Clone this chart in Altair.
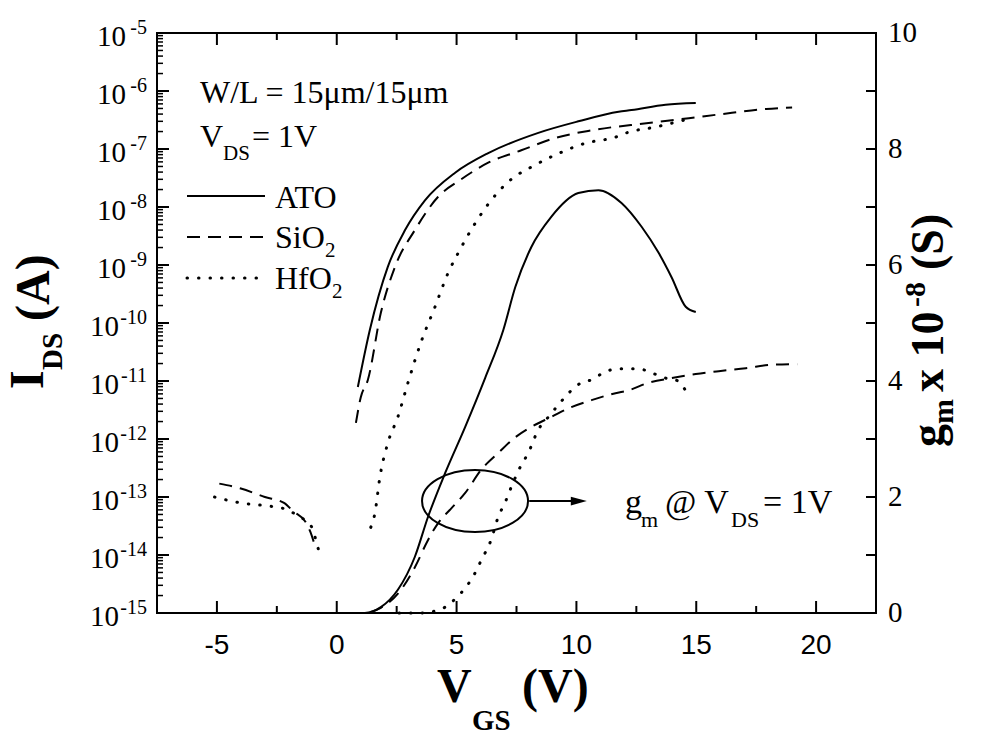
import math
import altair as alt
import pandas as pd

# ---------------- data ----------------
# I_DS (A) versus V_GS (V)
ato_v = [0.88, 1.38, 2.13, 2.85, 3.68, 4.94, 6.32, 8.41, 10.08, 11.76, 12.30, 13.72, 14.98]
ato_ids = [7.9e-12, 7.6e-11, 9.3e-10, 4.0e-9, 1.3e-8, 3.9e-8, 8.5e-8, 1.9e-7, 3.0e-7,
           4.4e-7, 4.7e-7, 5.8e-7, 6.2e-7]

sio2_v = [0.80, 1.00, 1.30, 1.84, 2.43, 3.26, 4.23, 5.19, 6.32, 7.70, 9.12, 10.63, 13.01,
          14.69, 16.49, 17.91, 19.00]
sio2_ids = [1.9e-12, 5.2e-12, 1.05e-11, 1.5e-10, 9.3e-10, 4.0e-9, 1.5e-8, 3.0e-8, 5.8e-8,
            9.5e-8, 1.55e-7, 2.1e-7, 2.8e-7, 3.4e-7, 4.2e-7, 4.9e-7, 5.2e-7]

hfo2_v = [1.42, 1.59, 1.80, 2.13, 2.55, 2.97, 3.51, 4.10, 4.64, 5.19, 5.77, 6.44, 7.28, 8.12,
          9.12, 10.38, 11.63, 12.18, 13.31, 14.56]
hfo2_ids = [3.0e-14, 5.2e-14, 2.2e-13, 8.5e-13, 2.4e-12, 9.3e-12, 4.6e-11, 1.9e-10, 7.2e-10,
            2.0e-9, 5.2e-9, 1.3e-8, 3.0e-8, 4.9e-8, 7.9e-8, 1.26e-7, 1.6e-7, 1.95e-7, 2.4e-7,
            3.2e-7]

# reverse (negative V_GS) branch
sio2_rev_v = [-4.9, -4.0, -3.0, -2.2, -1.8, -1.3, -1.1, -0.9]
sio2_rev_ids = [1.7e-13, 1.4e-13, 1.0e-13, 7.9e-14, 5.6e-14, 3.7e-14, 2.5e-14, 1.4e-14]
hfo2_rev_v = [-5.1, -4.0, -3.0, -2.2, -1.7, -1.34, -1.0, -0.84, -0.71]
hfo2_rev_ids = [1.0e-13, 7.9e-14, 7.1e-14, 6.3e-14, 5.0e-14, 4.0e-14, 2.8e-14, 1.6e-14, 1.05e-14]

# g_m (x 1e-8 S) versus V_GS (V)
ato_gm_v = [0.50, 1.17, 1.84, 2.55, 3.26, 3.81, 4.52, 5.36, 6.19, 6.95, 7.45, 8.12, 8.95,
            10.08, 10.92, 11.88, 12.72, 13.43, 13.97, 14.56, 14.98]
ato_gm = [0.0, 0.0, 0.10, 0.40, 0.97, 1.66, 2.41, 3.21, 4.05, 4.88, 5.62, 6.31, 6.83,
          7.24, 7.29, 7.07, 6.66, 6.21, 5.79, 5.28, 5.19]

sio2_gm_v = [1.42, 1.84, 2.68, 3.26, 3.81, 4.23, 4.77, 5.36, 6.03, 6.74, 7.45, 8.12, 8.95,
             9.79, 10.63, 11.63, 12.18, 13.01, 13.97, 14.98, 15.94, 17.07, 18.16, 19.21]
sio2_gm = [0.02, 0.09, 0.40, 0.79, 1.26, 1.55, 1.80, 2.07, 2.47, 2.76, 3.03, 3.21, 3.38,
           3.55, 3.67, 3.79, 3.84, 3.97, 4.05, 4.12, 4.17, 4.22, 4.28, 4.29]

hfo2_gm_v = [2.60, 3.51, 4.52, 4.98, 5.40, 5.77, 6.03, 6.44, 6.74, 7.03, 7.28, 7.66, 7.99,
             8.41, 8.83, 9.25, 9.67, 10.21, 10.63, 11.21, 11.76, 12.59, 13.14, 13.72, 14.14,
             14.60]
hfo2_gm = [0.0, 0.0, 0.10, 0.26, 0.45, 0.69, 0.91, 1.26, 1.66, 1.91, 2.17, 2.52, 2.76,
           3.16, 3.38, 3.59, 3.79, 3.97, 4.02, 4.16, 4.21, 4.21, 4.14, 4.05, 4.02, 3.81]

# axes
x_domain = [-7.5, 22.5]
log_domain = [1e-15, 1e-5]
gm_domain = [0, 10]
x_major = [-5, 0, 5, 10, 15, 20]
x_minor = [-2.5, 2.5, 7.5, 12.5, 17.5]
decades = [-5, -6, -7, -8, -9, -10, -11, -12, -13, -14, -15]
log_minor_mult = [2, 3, 4, 5, 6, 7, 8, 9]
gm_labels = [0, 2, 4, 6, 8, 10]
gm_ticks = [1, 2, 3, 4, 5, 6, 7, 8, 9]

# annotation anchors (data coordinates)
ellipse_center = (5.77, 1.93)
arrow_from, arrow_to = 8.03, 10.10

W, H = 719, 580
SERIF = "Liberation Serif"
SANS = "Liberation Sans"
MAJOR_LEN, MINOR_LEN, LOG_MINOR_LEN, GM_TICK_LEN = 12, 7, 6, 10

xs = alt.Scale(domain=x_domain, nice=False, zero=False)
ys_log = alt.Scale(type="log", domain=log_domain, nice=False)
ys_gm = alt.Scale(domain=gm_domain, nice=False, zero=False)

DASH = [13, 8]
DOT = [0.5, 11]

def X(field):
    return alt.X(field, scale=xs, axis=None)

def YL(field):
    return alt.Y(field, scale=ys_log, axis=None)

def YG(field):
    return alt.Y(field, scale=ys_gm, axis=None)

def df_xy(v, y, seg="a"):
    return pd.DataFrame({"V": v, "Y": y, "seg": seg})

def line(df, yfun, dash=None, width=2.0, cap="butt", interp="monotone"):
    kw = dict(color="black", strokeWidth=width, strokeCap=cap, interpolate=interp)
    if dash:
        kw["strokeDash"] = dash
    return alt.Chart(df).mark_line(**kw).encode(x=X("V:Q"), y=yfun("Y:Q"), detail="seg:N")

def txt(s, x, y, size, bold=False, align="left", angle=0, baseline="alphabetic", font=SERIF):
    kw = dict(font=font, fontSize=size, align=align, baseline=baseline, color="black",
              fontWeight="bold" if bold else "normal")
    if angle:
        kw["angle"] = angle
    return alt.Chart(pd.DataFrame({"t": [s]})).mark_text(**kw).encode(
        x=alt.value(x), y=alt.value(y), text="t:N")

# ---------------- axis tick marks (pixel positions from the axis mappings) ----------------
def px_x(v):
    return (v - x_domain[0]) / (x_domain[1] - x_domain[0]) * W

def px_log(y):
    lo, hi = math.log10(log_domain[0]), math.log10(log_domain[1])
    return (hi - math.log10(y)) / (hi - lo) * H

def px_gm(g):
    return (gm_domain[1] - g) / (gm_domain[1] - gm_domain[0]) * H

def seg_rule(x1, y1, x2, y2, width=2):
    return alt.Chart(pd.DataFrame({"a": [0]})).mark_rule(
        color="black", strokeWidth=width).encode(
        x=alt.value(x1), y=alt.value(y1), x2=alt.value(x2), y2=alt.value(y2))

tick_layers = []
for v in x_major + x_minor:
    ln = MAJOR_LEN if v in x_major else MINOR_LEN
    p = px_x(v)
    tick_layers.append(seg_rule(p, H, p, H - ln))
    tick_layers.append(seg_rule(p, 0, p, ln))
for e in decades[1:-1]:
    p = px_log(10.0 ** e)
    tick_layers.append(seg_rule(0, p, MAJOR_LEN, p))
for e in decades[1:]:
    for m in log_minor_mult:
        p = px_log(m * 10.0 ** e)
        tick_layers.append(seg_rule(0, p, LOG_MINOR_LEN, p, width=1.5))
for g in gm_ticks:
    p = px_gm(g)
    tick_layers.append(seg_rule(W - GM_TICK_LEN, p, W, p))

# ---------------- left (log) group ----------------
ids_ato = line(df_xy(ato_v, ato_ids), YL)
ids_sio2 = line(pd.concat([df_xy(sio2_v, sio2_ids, "f"), df_xy(sio2_rev_v, sio2_rev_ids, "r")]),
                YL, dash=DASH)
ids_hfo2 = line(pd.concat([df_xy(hfo2_v, hfo2_ids, "f"), df_xy(hfo2_rev_v, hfo2_rev_ids, "r")]),
                YL, dash=DOT, width=3, cap="round")

dec_df = pd.DataFrame({"e": decades, "val": [10.0 ** e for e in decades],
                       "ex": [str(e) for e in decades]})
ten_single = alt.Chart(dec_df).transform_filter("datum.e > -10").mark_text(
    font=SERIF, fontSize=29, align="right", baseline="middle", dy=4, color="black").encode(
    y=YL("val:Q"), x=alt.value(-31), text=alt.value("10"))
ten_double = alt.Chart(dec_df).transform_filter("datum.e <= -10").mark_text(
    font=SERIF, fontSize=29, align="right", baseline="middle", dy=4, color="black").encode(
    y=YL("val:Q"), x=alt.value(-38), text=alt.value("10"))
expo = alt.Chart(dec_df).mark_text(
    font=SERIF, fontSize=20, align="right", baseline="middle", dy=-5, color="black").encode(
    y=YL("val:Q"), x=alt.value(-10), text="ex:N")

x_lab_df = pd.DataFrame({"t": x_major, "lab": [str(v) for v in x_major]})
x_labels = alt.Chart(x_lab_df).mark_text(
    font=SANS, fontSize=28, align="center", baseline="top", color="black").encode(
    x=X("t:Q"), y=alt.value(H + 19), text="lab:N")

def legend_line(y, dash=None, width=2, cap="butt"):
    kw = dict(color="black", strokeWidth=width, strokeCap=cap)
    if dash:
        kw["strokeDash"] = dash
    return alt.Chart(pd.DataFrame({"a": [0]})).mark_rule(**kw).encode(
        x=alt.value(30), x2=alt.value(108), y=alt.value(y))

text_layers = [
    txt("W/L = 15\u03bcm/15\u03bcm", 43, 70, 32),
    txt("V", 43, 114, 32), txt("DS", 66, 127, 21), txt("= 1V", 95, 114, 32),
    legend_line(163), txt("ATO", 118, 175, 32),
    legend_line(204, DASH), txt("SiO", 118, 215, 32), txt("2", 168, 224, 21),
    legend_line(245, DOT, 3, "round"), txt("HfO", 118, 256, 32), txt("2", 175, 265, 21),
    txt("g", 468, 480, 34), txt("m", 484, 494, 22), txt("@ V", 508, 480, 34),
    txt("DS", 574, 494, 22), txt("= 1V", 606, 480, 34),
    # x title
    txt("V", 280, 669, 48, bold=True), txt("GS", 315, 697, 29, bold=True),
    txt("(V)", 365, 669, 48, bold=True),
    # left title (rotated)
    txt("I", -114, 356, 48, bold=True, angle=270),
    txt("DS", -95, 337, 29, bold=True, angle=270),
    txt("(A)", -108, 288, 48, bold=True, angle=270),
    # right title (rotated)
    txt("g", 786, 414, 46, bold=True, angle=270),
    txt("m", 796, 391, 30, bold=True, angle=270),
    txt("x 10", 786, 359, 46, bold=True, angle=270),
    txt("-8", 768, 274, 30, bold=True, angle=270),
    txt("(S)", 786, 237, 46, bold=True, angle=270),
]

left_group = alt.layer(ids_ato, ids_sio2, ids_hfo2, ten_single, ten_double, expo,
                       x_labels, *text_layers, *tick_layers)

# ---------------- right (g_m) group ----------------
gm_ato = line(df_xy(ato_gm_v, ato_gm), YG)
gm_sio2 = line(df_xy(sio2_gm_v, sio2_gm), YG, dash=DASH)
gm_hfo2 = line(df_xy(hfo2_gm_v, hfo2_gm), YG, dash=DOT, width=3, cap="round")

gm_lab_df = pd.DataFrame({"g": gm_labels, "lab": [str(v) for v in gm_labels]})
gm_label_text = alt.Chart(gm_lab_df).mark_text(
    font=SERIF, fontSize=29, align="left", baseline="middle", color="black").encode(
    y=YG("g:Q"), x=alt.value(W + 12), text="lab:N")

ell_df = pd.DataFrame({"V": [ellipse_center[0]], "g": [ellipse_center[1]]})
ellipse = alt.Chart(ell_df).mark_point(
    shape="M -1 0 A 1 0.585 0 1 1 1 0 A 1 0.585 0 1 1 -1 0 Z", size=11236, filled=False,
    stroke="black", strokeWidth=2, opacity=1).encode(x=X("V:Q"), y=YG("g:Q"))
arr_df = pd.DataFrame({"x1": [arrow_from], "x2": [arrow_to], "g": [ellipse_center[1]]})
arrow_line = alt.Chart(arr_df).mark_rule(color="black", strokeWidth=2).encode(
    x=X("x1:Q"), x2="x2:Q", y=YG("g:Q"))
arrow_head = alt.Chart(arr_df).mark_point(
    shape="M -1 -0.55 L 1 0 L -1 0.55 Z", size=256, filled=True, fill="black",
    stroke="black", strokeWidth=0, opacity=1).encode(x=X("x2:Q"), y=YG("g:Q"))

right_group = alt.layer(gm_ato, gm_sio2, gm_hfo2, gm_label_text,
                        ellipse, arrow_line, arrow_head)

chart = alt.layer(left_group, right_group).resolve_scale(y="independent").properties(
    width=W, height=H,
    padding={"left": 157, "top": 33, "right": 117, "bottom": 124},
    autosize=alt.AutoSizeParams(type="none"),
    background="white",
).configure_view(stroke="black", strokeWidth=2)

chart.save("out.html", embed_options={"renderer": "svg", "actions": False})
